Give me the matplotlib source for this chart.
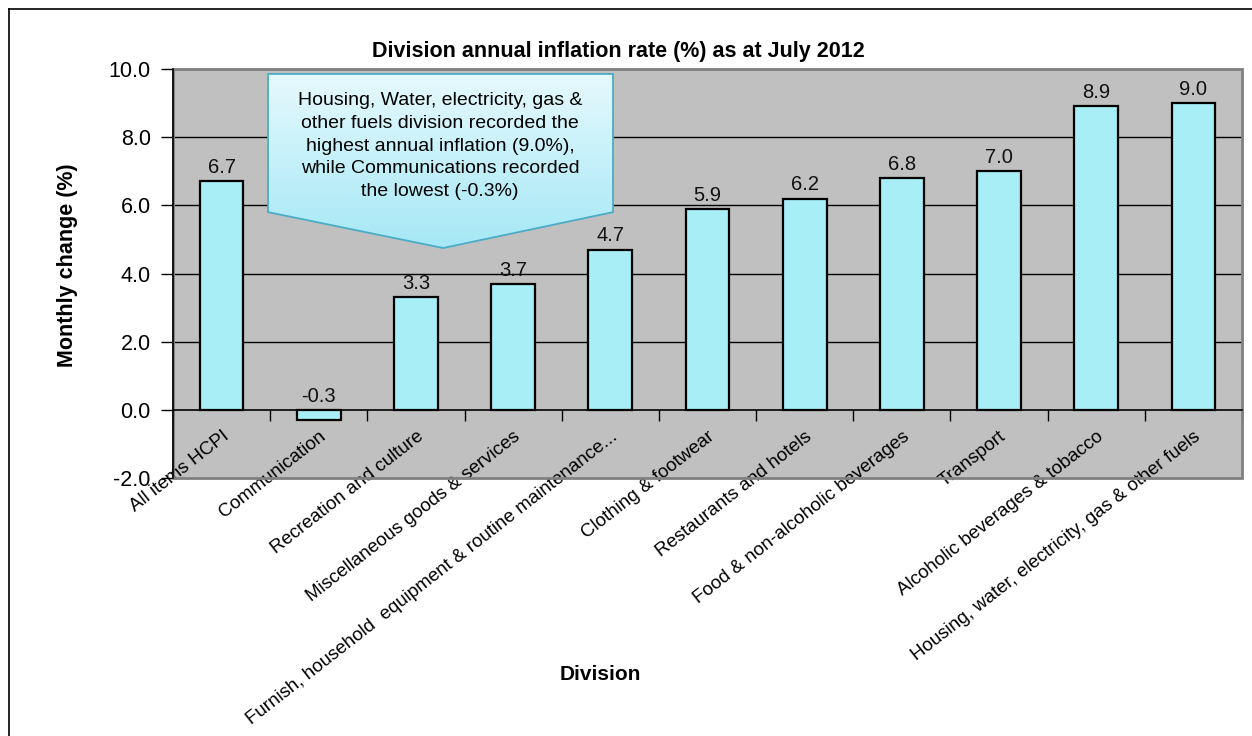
import numpy as np
import matplotlib
matplotlib.use('Agg')
import matplotlib.pyplot as plt
from matplotlib.patches import Polygon, Rectangle
from matplotlib.lines import Line2D
from matplotlib.colors import LinearSegmentedColormap

# Datos
divisions = ['All items HCPI', 'Communication', 'Recreation and culture',
             'Miscellaneous goods & services',
             'Furnish, household  equipment & routine maintenance...',
             'Clothing & footwear', 'Restaurants and hotels',
             'Food & non-alcoholic beverages', 'Transport',
             'Alcoholic beverages & tobacco',
             'Housing, water, electricity, gas & other fuels']
rates = [6.7, -0.3, 3.3, 3.7, 4.7, 5.9, 6.2, 6.8, 7.0, 8.9, 9.0]
yticks = [-2.0, 0.0, 2.0, 4.0, 6.0, 8.0, 10.0]
note = ('Housing, Water, electricity, gas &\n'
        'other fuels division recorded the\n'
        'highest annual inflation (9.0%),\n'
        'while Communications recorded\n'
        'the lowest (-0.3%)')

plt.rcParams['font.family'] = ['Liberation Sans', 'DejaVu Sans']

W, H = 1252, 736
fig = plt.figure(figsize=(W/100, H/100), dpi=100)
ax = fig.add_axes([173/W, 1-478/H, 1069/W, 409/H])
ax.set_facecolor('#c0c0c0')

x = np.arange(len(rates))
ax.bar(x, rates, width=0.45, color='#a8eef6', edgecolor='black',
       linewidth=1.6, zorder=3)
for xi, v in zip(x, rates):
    ax.annotate('%.1f' % v, (xi, max(v, 0)), xytext=(0, 3),
                textcoords='offset points', ha='center', va='bottom',
                fontsize=14.5, color='#111111', zorder=4)

# lineas horizontales
for t in yticks[2:-1]:
    ax.axhline(t, color='black', lw=1, zorder=1)

ax.set_xlim(-0.5, len(rates)-0.5)
ax.set_ylim(yticks[0], yticks[-1])
ax.set_yticks(yticks)
ax.set_yticklabels(['%.1f' % t for t in yticks], fontsize=15.5)
ax.tick_params(axis='y', length=9, width=1, direction='out', pad=7)

# eje X en cero
ax.spines['bottom'].set_position(('data', 0))
ax.spines['bottom'].set_linewidth(1.2)
ax.spines['left'].set_linewidth(1.2)
ax.spines['top'].set_visible(False)
ax.spines['right'].set_visible(False)
ax.add_patch(Rectangle((0, 0), 1, 1, transform=ax.transAxes, fill=False,
                       edgecolor='#808080', lw=2, zorder=2, clip_on=False))

ax.set_xticks(x)
ax.set_xticklabels(divisions, rotation=38, ha='right',
                   rotation_mode='anchor', fontsize=13.5)
ax.set_xticks(np.arange(-0.5, len(rates), 1), minor=True)
ax.tick_params(axis='x', which='major', length=0, pad=13)
ax.tick_params(axis='x', which='minor', length=8, width=1, direction='out')

# Titulos
fig.text(618/W, 1-51/H, 'Division annual inflation rate (%) as at July 2012',
         ha='center', va='center', fontsize=15.5, fontweight='bold')
fig.text(67/W, 1-265/H, 'Monthly change (%)', rotation=90, ha='center',
         va='center', fontsize=15.5, fontweight='bold')
fig.text(600/W, 1-675/H, 'Division', ha='center', va='center',
         fontsize=15, fontweight='bold')

# Llamada
pts = [(0.0889, 0.9878), (0.4116, 0.9878), (0.4116, 0.650),
       (0.2526, 0.5623), (0.0889, 0.650)]
poly = Polygon(pts, closed=True, transform=ax.transAxes, fill=False,
               edgecolor='#4bacc6', lw=1.3, zorder=7)
ax.add_patch(poly)
cmap = LinearSegmentedColormap.from_list('callout', ['#e6f9fd', '#a5e8f6'])
grad = np.linspace(0, 1, 256).reshape(-1, 1)
im = ax.imshow(grad, cmap=cmap, aspect='auto', transform=ax.transAxes,
               extent=[0.0889, 0.4116, 0.5623, 0.9878], origin='upper',
               zorder=6)
im.set_clip_path(poly)
ax.text(0.2498, 0.8117, note, transform=ax.transAxes, ha='center',
        va='center', fontsize=14, linespacing=1.45, zorder=8)
ax.set_xlim(-0.5, len(rates)-0.5)
ax.set_ylim(yticks[0], yticks[-1])

# marco exterior
fig.add_artist(Line2D([9/W, 9/W], [0, 1-9/H], transform=fig.transFigure,
                      color='black', lw=1.2))
fig.add_artist(Line2D([9/W, 1], [1-9/H, 1-9/H], transform=fig.transFigure,
                      color='black', lw=1.2))

fig.savefig('out.png', dpi=100)
